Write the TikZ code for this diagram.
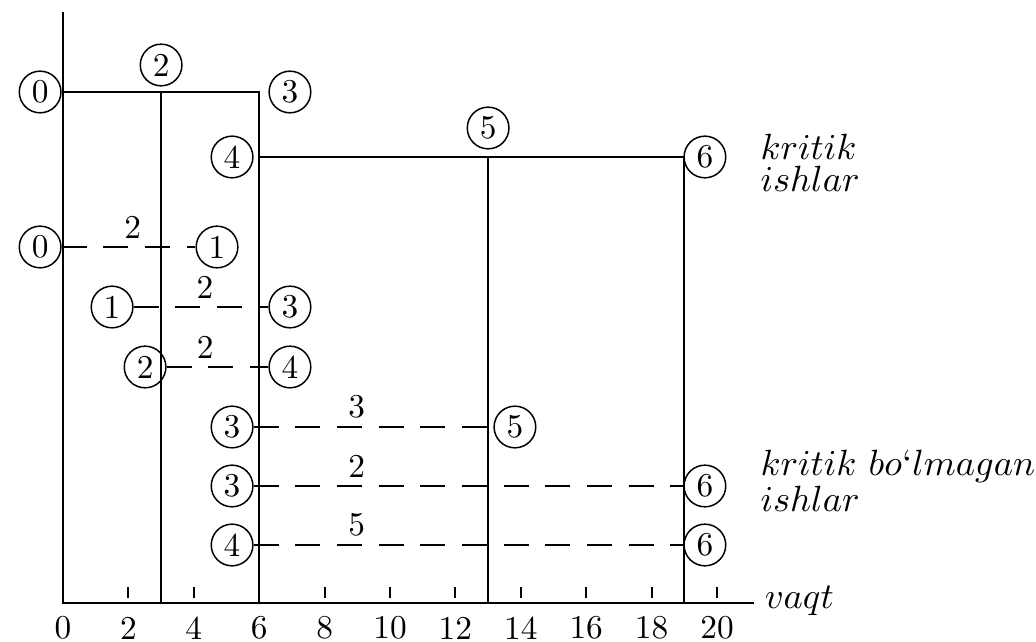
\documentclass[tikz,border=0pt]{standalone}
\usetikzlibrary{positioning}
\tikzset{
  ev/.style={circle, draw, line width=0.45pt, inner sep=0pt, minimum size=12.5pt},
  crit/.style={line width=0.6pt},
  job/.style={line width=0.6pt, dash pattern=on 7.5pt off 5pt},
  note/.style={anchor=west, align=left, inner sep=0pt, font=\fontsize{10.95}{9.6}\selectfont},
}
\begin{document}
\begin{tikzpicture}[x=9.81pt, y=0.3pt]
    \useasboundingbox (-1.927,-39) rectangle (29.755,603);
    % axes
    \coordinate (O) at (0,0);
    \coordinate (ytop) at (0,591);
    \coordinate (xend) at (21.13,0);
    \draw[crit] (ytop) -- (O) -- (xend);
    \node[note] (vaqt) at (21.44,2) {$vaqt$};
    \foreach \t in {2,4,...,20} \draw[crit] (\t,5) -- (\t,16);
    \foreach \t in {0,2,...,20} \node (lab\t) at (\t,-25) {\t};
    % kritik ishlar
    \node[ev] (k0) at (-0.70,511) {0};
    \node[ev] (k2) at (3,538) {2};
    \node[ev] (k3) at (6.94,511) {3};
    \node[ev] (k4) at (5.17,446) {4};
    \node[ev] (k5) at (13,475) {5};
    \node[ev] (k6) at (19.63,446) {6};
    \coordinate (c2) at (3,511);
    \coordinate (c3) at (6,511);
    \coordinate (c4) at (6,446);
    \coordinate (c5) at (13,446);
    \coordinate (c6) at (19,446);
    \draw[crit] (k0) -- (c3) -- (c3 |- O);
    \draw[crit] (c2) -- (c2 |- O);
    \draw[crit] (c4) -- (c6) -- (c6 |- O);
    \draw[crit] (c5) -- (c5 |- O);
    \node[note] (krit) at (21.31,440) {$kritik$\\$ishlar$};
    % kritik bo'lmagan ishlar
    \node[ev] (a0) at (-0.70,356) {0};
    \node[ev] (a1) at (4.71,356) {1};
    \node[ev] (b1) at (1.50,296) {1};
    \node[ev] (b3) at (6.94,296) {3};
    \node[ev] (d2) at (2.51,236) {2};
    \node[ev] (d4) at (6.94,236) {4};
    \node[ev] (e3) at (5.17,176) {3};
    \node[ev] (e5) at (13.82,176) {5};
    \node[ev] (f3) at (5.17,117) {3};
    \node[ev] (f6) at (19.63,117) {6};
    \node[ev] (g4) at (5.17,58) {4};
    \node[ev] (g6) at (19.63,58) {6};
    \draw[job] (a0) -- node[above=-1pt, pos=0.53] {2} (a1);
    \draw[job] (b1) -- node[above=-1pt, pos=0.53] {2} (b3);
    \draw[job] (d2) -- node[above=-1pt, pos=0.38] {2} (d4);
    \draw[job] (e3) -- node[above=-1pt, pos=0.43] {3} (e5);
    \draw[job] (f3) -- node[above=-1pt, pos=0.24] {2} (f6);
    \draw[job] (g4) -- node[above=-1pt, pos=0.24] {5} (g6);
    \node[note] (nokrit) at (21.31,122) {$kritik$ $bo$`$lmagan$\\$ishlar$};
\end{tikzpicture}
\end{document}
